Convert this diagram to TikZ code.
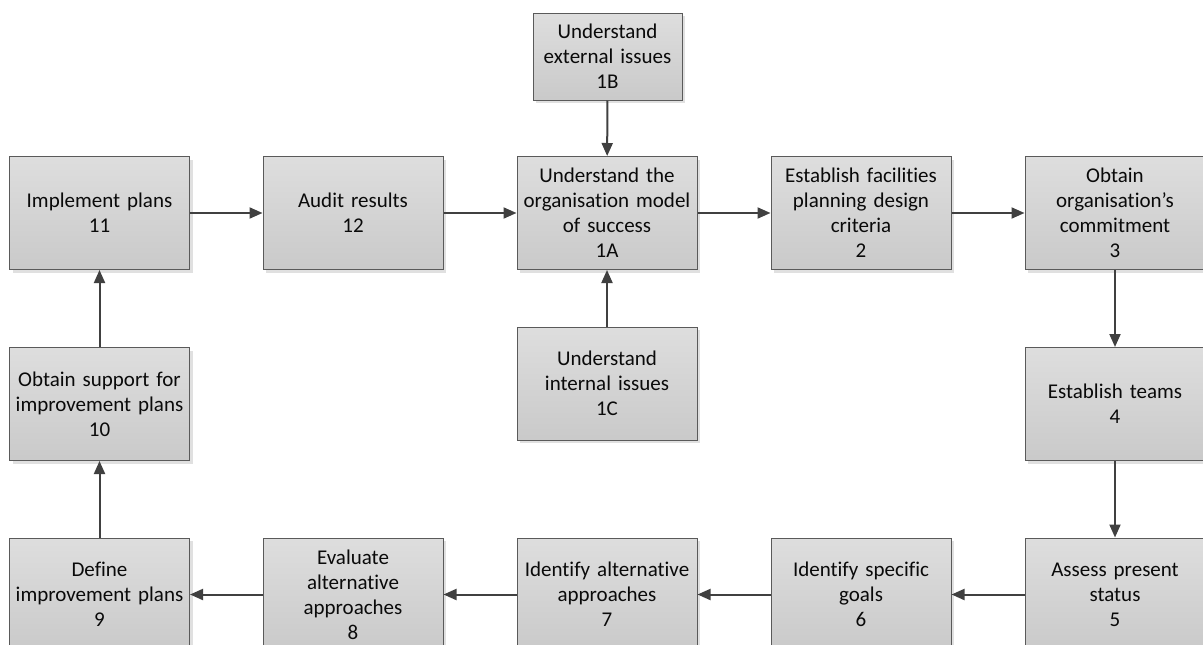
\documentclass[tikz,border=0pt]{standalone}
\usepackage{fontspec}
\setmainfont{Carlito}[Ligatures=NoCommon]
\usetikzlibrary{arrows.meta,shadows}
\definecolor{boxline}{HTML}{5A5A5A}
\definecolor{arrowc}{HTML}{404040}
\definecolor{txt}{HTML}{0A0A0A}
\tikzset{
  stepbox/.style={draw=boxline, line width=1pt, top color=gray!26, bottom color=gray!42,
    minimum width=180pt, minimum height=113pt, inner sep=0pt, text width=178pt,
    align=center, text=txt,
    font=\fontsize{21pt}{25pt}\selectfont,
    drop shadow={shadow xshift=3pt, shadow yshift=-3pt, fill=black!12, opacity=1}},
  smallbox/.style={stepbox, minimum width=149pt, minimum height=87pt, text width=147pt},
  flow/.style={draw=arrowc, line width=2pt, -{Triangle[length=13pt,width=11pt]}}
}
\begin{document}
\begin{tikzpicture}[x=1pt,y=-1pt]
\useasboundingbox (0,0) rectangle (1203,645);
\clip (0,0) rectangle (1203,645);
% top row
\node[stepbox] (n11) at (99.5,213) {Implement plans\\11};
\node[stepbox] (n12) at (353,213) {Audit results\\12};
\node[stepbox] (n1a) at (607,213) {Understand the\\organisation model\\of success\\1A};
\node[stepbox] (n2) at (861,213) {Establish facilities\\planning design\\criteria\\2};
\node[stepbox] (n3) at (1115,213) {Obtain\\organisation’s\\commitment\\3};
% top small box
\node[smallbox] (n1b) at (607.5,56.5) {Understand\\external issues\\1B};
% middle row
\node[stepbox] (n10) at (99.5,404) {Obtain support for\\improvement plans\\10};
\node[stepbox] (n1c) at (607,383.5) {Understand\\internal issues\\1C};
\node[stepbox] (n4) at (1115,404) {Establish teams\\4};
% bottom row
\node[stepbox] (n9) at (99.5,594.5) {Define\\improvement plans\\9};
\node[stepbox] (n8) at (353,594.5) {Evaluate\\alternative\\approaches\\8};
\node[stepbox] (n7) at (607,594.5) {Identify alternative\\approaches\\7};
\node[stepbox] (n6) at (861,594.5) {Identify specific\\goals\\6};
\node[stepbox] (n5) at (1115,594.5) {Assess present\\status\\5};
% connectors
\draw[flow] (n11) -- (n12);
\draw[flow] (n12) -- (n1a);
\draw[flow] (n1a) -- (n2);
\draw[flow] (n2) -- (n3);
\draw[flow] (n3) -- (n4);
\draw[flow] (n4) -- (n5);
\draw[flow] (n5) -- (n6);
\draw[flow] (n6) -- (n7);
\draw[flow] (n7) -- (n8);
\draw[flow] (n8) -- (n9);
\draw[flow] (n9) -- (n10);
\draw[flow] (n10) -- (n11);
\draw[flow] (n1b) -- (n1a);
\draw[flow] (n1c) -- (n1a);
\end{tikzpicture}
\end{document}
